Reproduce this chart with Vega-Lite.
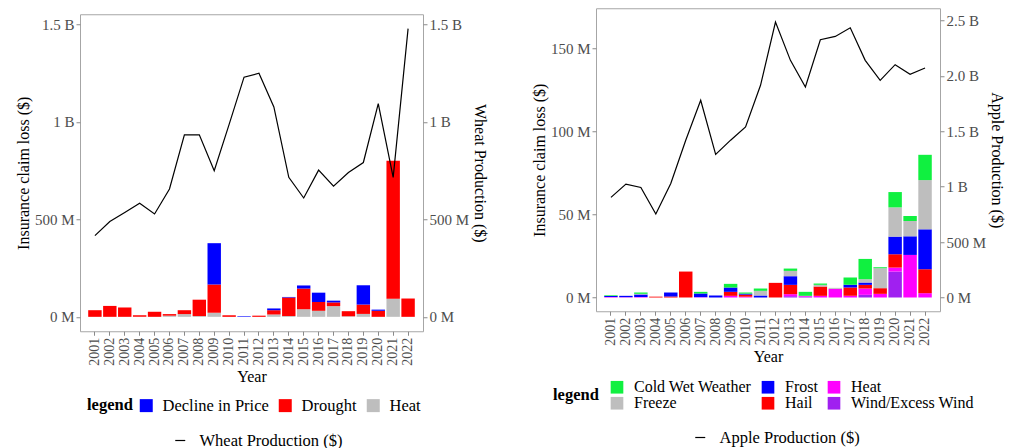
{
  "$schema": "https://vega.github.io/schema/vega-lite/v6.json",
  "padding": {"left": 14, "top": 7, "right": 2, "bottom": 0},
  "background": "white",
  "config": {
    "font": "Liberation Serif",
    "view": {"stroke": "#A6A6A6", "strokeWidth": 1},
    "axis": {
      "grid": false,
      "domain": false,
      "tickColor": "#8A8A8A",
      "tickSize": 4,
      "labelColor": "#4D4D4D",
      "labelFontSize": 15,
      "labelPadding": 2,
      "titleColor": "#000000",
      "titleFontSize": 16,
      "titleFontWeight": "normal",
      "titlePadding": 3
    },
    "legend": {
      "padding": 0,
      "labelFontSize": 16.5,
      "labelColor": "#000000",
      "titleFontSize": 16.5,
      "titleFontWeight": "bold",
      "titleColor": "#000000"
    }
  },
  "datasets": {
    "wheat_claims": [
      {"year": "2001", "cause": "Drought", "loss": 34000000},
      {"year": "2002", "cause": "Drought", "loss": 56000000},
      {"year": "2003", "cause": "Drought", "loss": 48000000},
      {"year": "2004", "cause": "Drought", "loss": 8000000},
      {"year": "2005", "cause": "Drought", "loss": 26000000},
      {"year": "2006", "cause": "Heat", "loss": 6000000},
      {"year": "2006", "cause": "Drought", "loss": 8000000},
      {"year": "2007", "cause": "Heat", "loss": 14000000},
      {"year": "2007", "cause": "Drought", "loss": 20000000},
      {"year": "2008", "cause": "Heat", "loss": 4000000},
      {"year": "2008", "cause": "Drought", "loss": 84000000},
      {"year": "2009", "cause": "Heat", "loss": 21000000},
      {"year": "2009", "cause": "Drought", "loss": 145000000},
      {"year": "2009", "cause": "Decline in Price", "loss": 212000000},
      {"year": "2010", "cause": "Drought", "loss": 8000000},
      {"year": "2011", "cause": "Decline in Price", "loss": 3000000},
      {"year": "2012", "cause": "Drought", "loss": 6000000},
      {"year": "2013", "cause": "Heat", "loss": 12000000},
      {"year": "2013", "cause": "Drought", "loss": 22000000},
      {"year": "2013", "cause": "Decline in Price", "loss": 9000000},
      {"year": "2014", "cause": "Heat", "loss": 4000000},
      {"year": "2014", "cause": "Drought", "loss": 95000000},
      {"year": "2014", "cause": "Decline in Price", "loss": 3000000},
      {"year": "2015", "cause": "Heat", "loss": 39000000},
      {"year": "2015", "cause": "Drought", "loss": 106000000},
      {"year": "2015", "cause": "Decline in Price", "loss": 16000000},
      {"year": "2016", "cause": "Heat", "loss": 31000000},
      {"year": "2016", "cause": "Drought", "loss": 45000000},
      {"year": "2016", "cause": "Decline in Price", "loss": 48000000},
      {"year": "2017", "cause": "Heat", "loss": 55000000},
      {"year": "2017", "cause": "Drought", "loss": 19000000},
      {"year": "2017", "cause": "Decline in Price", "loss": 9000000},
      {"year": "2018", "cause": "Heat", "loss": 3000000},
      {"year": "2018", "cause": "Drought", "loss": 26000000},
      {"year": "2019", "cause": "Heat", "loss": 15000000},
      {"year": "2019", "cause": "Drought", "loss": 48000000},
      {"year": "2019", "cause": "Decline in Price", "loss": 99000000},
      {"year": "2020", "cause": "Drought", "loss": 31000000},
      {"year": "2020", "cause": "Decline in Price", "loss": 6000000},
      {"year": "2021", "cause": "Heat", "loss": 93000000},
      {"year": "2021", "cause": "Drought", "loss": 708000000},
      {"year": "2022", "cause": "Drought", "loss": 94000000}
    ],
    "wheat_prod": [
      {"year": "2001", "production": 417000000},
      {"year": "2002", "production": 489000000},
      {"year": "2003", "production": 535000000},
      {"year": "2004", "production": 583000000},
      {"year": "2005", "production": 528000000},
      {"year": "2006", "production": 656000000},
      {"year": "2007", "production": 934000000},
      {"year": "2008", "production": 934000000},
      {"year": "2009", "production": 750000000},
      {"year": "2010", "production": 988000000},
      {"year": "2011", "production": 1230000000},
      {"year": "2012", "production": 1250000000},
      {"year": "2013", "production": 1077000000},
      {"year": "2014", "production": 716000000},
      {"year": "2015", "production": 610000000},
      {"year": "2016", "production": 753000000},
      {"year": "2017", "production": 671000000},
      {"year": "2018", "production": 741000000},
      {"year": "2019", "production": 792000000},
      {"year": "2020", "production": 1094000000},
      {"year": "2021", "production": 716000000},
      {"year": "2022", "production": 1479000000}
    ],
    "apple_claims": [
      {"year": "2001", "cause": "Heat", "loss": 300000},
      {"year": "2001", "cause": "Frost", "loss": 600000},
      {"year": "2001", "cause": "Cold Wet Weather", "loss": 400000},
      {"year": "2002", "cause": "Heat", "loss": 200000},
      {"year": "2002", "cause": "Frost", "loss": 800000},
      {"year": "2003", "cause": "Heat", "loss": 300000},
      {"year": "2003", "cause": "Frost", "loss": 1500000},
      {"year": "2003", "cause": "Freeze", "loss": 400000},
      {"year": "2003", "cause": "Cold Wet Weather", "loss": 800000},
      {"year": "2004", "cause": "Hail", "loss": 500000},
      {"year": "2005", "cause": "Hail", "loss": 600000},
      {"year": "2005", "cause": "Frost", "loss": 2400000},
      {"year": "2006", "cause": "Hail", "loss": 15600000},
      {"year": "2007", "cause": "Heat", "loss": 200000},
      {"year": "2007", "cause": "Frost", "loss": 2200000},
      {"year": "2007", "cause": "Cold Wet Weather", "loss": 1000000},
      {"year": "2008", "cause": "Frost", "loss": 1200000},
      {"year": "2009", "cause": "Heat", "loss": 1000000},
      {"year": "2009", "cause": "Hail", "loss": 2400000},
      {"year": "2009", "cause": "Frost", "loss": 2600000},
      {"year": "2009", "cause": "Cold Wet Weather", "loss": 2200000},
      {"year": "2010", "cause": "Heat", "loss": 500000},
      {"year": "2010", "cause": "Hail", "loss": 1200000},
      {"year": "2010", "cause": "Frost", "loss": 600000},
      {"year": "2010", "cause": "Cold Wet Weather", "loss": 700000},
      {"year": "2011", "cause": "Frost", "loss": 1200000},
      {"year": "2011", "cause": "Freeze", "loss": 2800000},
      {"year": "2011", "cause": "Cold Wet Weather", "loss": 1400000},
      {"year": "2012", "cause": "Hail", "loss": 8800000},
      {"year": "2013", "cause": "Wind/Excess Wind", "loss": 800000},
      {"year": "2013", "cause": "Heat", "loss": 1200000},
      {"year": "2013", "cause": "Hail", "loss": 5600000},
      {"year": "2013", "cause": "Frost", "loss": 5200000},
      {"year": "2013", "cause": "Freeze", "loss": 3200000},
      {"year": "2013", "cause": "Cold Wet Weather", "loss": 1400000},
      {"year": "2014", "cause": "Wind/Excess Wind", "loss": 500000},
      {"year": "2014", "cause": "Heat", "loss": 500000},
      {"year": "2014", "cause": "Cold Wet Weather", "loss": 2400000},
      {"year": "2015", "cause": "Heat", "loss": 1000000},
      {"year": "2015", "cause": "Hail", "loss": 5600000},
      {"year": "2015", "cause": "Freeze", "loss": 1000000},
      {"year": "2015", "cause": "Cold Wet Weather", "loss": 800000},
      {"year": "2016", "cause": "Heat", "loss": 5200000},
      {"year": "2016", "cause": "Freeze", "loss": 600000},
      {"year": "2017", "cause": "Heat", "loss": 1000000},
      {"year": "2017", "cause": "Hail", "loss": 5000000},
      {"year": "2017", "cause": "Frost", "loss": 1600000},
      {"year": "2017", "cause": "Cold Wet Weather", "loss": 4400000},
      {"year": "2018", "cause": "Wind/Excess Wind", "loss": 1600000},
      {"year": "2018", "cause": "Heat", "loss": 3800000},
      {"year": "2018", "cause": "Hail", "loss": 2200000},
      {"year": "2018", "cause": "Frost", "loss": 1400000},
      {"year": "2018", "cause": "Freeze", "loss": 2000000},
      {"year": "2018", "cause": "Cold Wet Weather", "loss": 12200000},
      {"year": "2019", "cause": "Heat", "loss": 2200000},
      {"year": "2019", "cause": "Hail", "loss": 3400000},
      {"year": "2019", "cause": "Freeze", "loss": 12000000},
      {"year": "2019", "cause": "Cold Wet Weather", "loss": 600000},
      {"year": "2020", "cause": "Wind/Excess Wind", "loss": 15600000},
      {"year": "2020", "cause": "Heat", "loss": 2400000},
      {"year": "2020", "cause": "Hail", "loss": 8000000},
      {"year": "2020", "cause": "Frost", "loss": 10600000},
      {"year": "2020", "cause": "Freeze", "loss": 17600000},
      {"year": "2020", "cause": "Cold Wet Weather", "loss": 9200000},
      {"year": "2021", "cause": "Heat", "loss": 25600000},
      {"year": "2021", "cause": "Frost", "loss": 11200000},
      {"year": "2021", "cause": "Freeze", "loss": 9200000},
      {"year": "2021", "cause": "Cold Wet Weather", "loss": 3000000},
      {"year": "2022", "cause": "Heat", "loss": 2600000},
      {"year": "2022", "cause": "Hail", "loss": 14400000},
      {"year": "2022", "cause": "Frost", "loss": 24000000},
      {"year": "2022", "cause": "Freeze", "loss": 29600000},
      {"year": "2022", "cause": "Cold Wet Weather", "loss": 15200000}
    ],
    "apple_prod": [
      {"year": "2001", "production": 903000000},
      {"year": "2002", "production": 1023000000},
      {"year": "2003", "production": 993000000},
      {"year": "2004", "production": 753000000},
      {"year": "2005", "production": 1029000000},
      {"year": "2006", "production": 1419000000},
      {"year": "2007", "production": 1779000000},
      {"year": "2008", "production": 1290000000},
      {"year": "2009", "production": 1419000000},
      {"year": "2010", "production": 1539000000},
      {"year": "2011", "production": 1914000000},
      {"year": "2012", "production": 2484000000},
      {"year": "2013", "production": 2139000000},
      {"year": "2014", "production": 1899000000},
      {"year": "2015", "production": 2325000000},
      {"year": "2016", "production": 2355000000},
      {"year": "2017", "production": 2433000000},
      {"year": "2018", "production": 2139000000},
      {"year": "2019", "production": 1959000000},
      {"year": "2020", "production": 2100000000},
      {"year": "2021", "production": 2013000000},
      {"year": "2022", "production": 2070000000}
    ]
  },
  "spacing": 41,
  "center": true,
  "hconcat": [
    {
      "width": 343,
      "height": 317,
      "layer": [
        {
          "data": {"name": "wheat_claims"},
          "mark": {"type": "bar"},
          "encoding": {
            "x": {
              "field": "year", "type": "ordinal",
              "scale": {"paddingInner": 0.1, "paddingOuter": 0.55},
              "axis": {"title": "Year", "labelAngle": 270, "labelFontSize": 14}
            },
            "y": {
              "field": "loss", "type": "quantitative", "stack": "zero",
              "scale": {"domain": [-74000000, 1553000000], "nice": false, "zero": false},
              "axis": {
                "title": "Insurance claim loss ($)",
                "values": [0, 500000000, 1000000000, 1500000000],
                "labelExpr": "datum.value == 0 ? '0 M' : datum.value < 1000000000 ? (datum.value / 1000000) + ' M' : (datum.value / 1000000000) + ' B'"
              }
            },
            "color": {
              "field": "cause", "type": "nominal",
              "scale": {"domain": ["Decline in Price", "Drought", "Heat"], "range": ["#0000FF", "#FF0000", "#BEBEBE"]},
              "legend": {
                "title": "legend", "orient": "none", "legendX": 7, "legendY": 383,
                "direction": "horizontal", "titleOrient": "left", "titleAngle": 0,
                "titleAnchor": "middle", "titleBaseline": "middle", "titlePadding": 5,
                "symbolType": "square", "symbolSize": 169, "symbolStrokeWidth": 0, "symbolOpacity": 1,
                "labelOffset": 8, "columnPadding": 8
              }
            },
            "order": {"field": "cause", "sort": "descending"}
          }
        },
        {
          "data": {"name": "wheat_prod"},
          "mark": {"type": "line", "strokeWidth": 1.2},
          "encoding": {
            "x": {"field": "year", "type": "ordinal"},
            "y": {
              "field": "production", "type": "quantitative",
              "scale": {"domain": [-74000000, 1553000000], "nice": false, "zero": false},
              "axis": {
                "orient": "right",
                "title": "Wheat Production ($)",
                "values": [0, 500000000, 1000000000, 1500000000],
                "labelExpr": "datum.value == 0 ? '0 M' : datum.value < 1000000000 ? (datum.value / 1000000) + ' M' : (datum.value / 1000000000) + ' B'"
              }
            },
            "stroke": {
              "datum": "Wheat Production ($)", "type": "nominal",
              "scale": {"range": ["#000000"]},
              "legend": {
                "title": null, "orient": "none", "legendX": 92, "legendY": 418,
                "symbolType": "stroke", "symbolSize": 100, "symbolStrokeWidth": 1.2,
                "labelOffset": 11
              }
            }
          }
        }
      ],
      "resolve": {"scale": {"y": "independent"}}
    },
    {
      "width": 344,
      "height": 303,
      "layer": [
        {
          "data": {"name": "apple_claims"},
          "mark": {"type": "bar"},
          "encoding": {
            "x": {
              "field": "year", "type": "ordinal",
              "scale": {"paddingInner": 0.1, "paddingOuter": 0.55},
              "axis": {"title": "Year", "labelAngle": 270, "labelFontSize": 14}
            },
            "y": {
              "field": "loss", "type": "quantitative", "stack": "zero",
              "scale": {"domain": [-8270000, 173930000], "nice": false, "zero": false},
              "axis": {
                "title": "Insurance claim loss ($)",
                "values": [0, 50000000, 100000000, 150000000],
                "labelExpr": "(datum.value / 1000000) + ' M'"
              }
            },
            "color": {
              "field": "cause", "type": "nominal",
              "scale": {
                "domain": ["Cold Wet Weather", "Frost", "Heat", "Freeze", "Hail", "Wind/Excess Wind"],
                "range": ["#10F040", "#0000FF", "#FF00FF", "#BEBEBE", "#FF0000", "#A020F0"]
              },
              "legend": {
                "title": "legend", "orient": "none", "legendX": -43, "legendY": 371,
                "direction": "horizontal", "columns": 3, "titleOrient": "left", "titleAngle": 0,
                "titleAnchor": "middle", "titleBaseline": "middle", "titlePadding": 10,
                "symbolType": "square", "symbolSize": 160, "symbolStrokeWidth": 0, "symbolOpacity": 1,
                "labelFontSize": 16,
                "labelOffset": 9, "columnPadding": 8, "rowPadding": 0
              }
            },
            "order": {"field": "cause", "sort": "descending"}
          }
        },
        {
          "data": {"name": "apple_prod"},
          "mark": {"type": "line", "strokeWidth": 1.2},
          "encoding": {
            "x": {"field": "year", "type": "ordinal"},
            "y": {
              "field": "production", "type": "quantitative",
              "scale": {"domain": [-124000000, 2609000000], "nice": false, "zero": false},
              "axis": {
                "orient": "right",
                "title": "Apple Production ($)",
                "values": [0, 500000000, 1000000000, 1500000000, 2000000000, 2500000000],
                "labelExpr": "datum.value == 2000000000 ? '2.0 B' : datum.value == 2500000000 ? '2.5 B' : datum.value == 0 ? '0 M' : datum.value < 1000000000 ? (datum.value / 1000000) + ' M' : (datum.value / 1000000000) + ' B'"
              }
            },
            "stroke": {
              "datum": "Apple Production ($)", "type": "nominal",
              "scale": {"range": ["#000000"]},
              "legend": {
                "title": null, "orient": "none", "legendX": 87, "legendY": 412, "padding": 9,
                "symbolType": "stroke", "symbolSize": 100, "symbolStrokeWidth": 1.2,
                "labelOffset": 11
              }
            }
          }
        }
      ],
      "resolve": {"scale": {"y": "independent"}}
    }
  ],
  "resolve": {"scale": {"color": "independent", "stroke": "independent", "x": "independent", "y": "independent"}}
}
